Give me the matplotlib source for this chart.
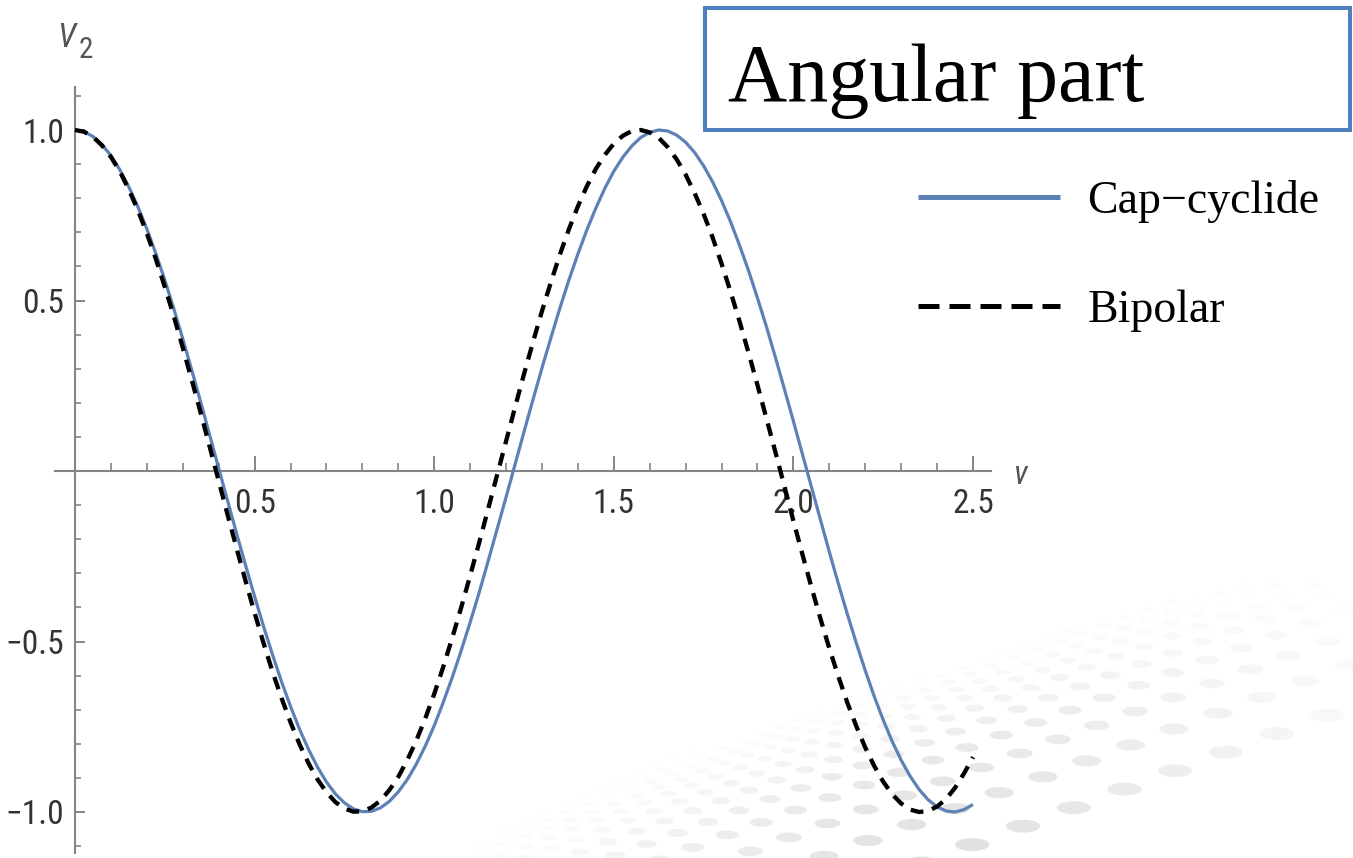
import math
import matplotlib
matplotlib.use("Agg")
import matplotlib.pyplot as plt
from matplotlib.lines import Line2D
from matplotlib.patches import Rectangle, Ellipse

# sampled curves, step 0.025 in v
v = [i * 0.025 for i in range(101)]

cap_cyclide = [
    1.000, 0.995, 0.981, 0.957, 0.925, 0.883, 0.833, 0.775, 0.710, 0.638,
    0.560, 0.476, 0.388, 0.296, 0.202, 0.105, 0.008, -0.088, -0.184, -0.277,
    -0.368, -0.456, -0.539, -0.618, -0.690, -0.757, -0.816, -0.868, -0.912, -0.947,
    -0.973, -0.991, -0.999, -0.998, -0.988, -0.969, -0.941, -0.905, -0.860, -0.807,
    -0.747, -0.679, -0.606, -0.527, -0.444, -0.357, -0.265, -0.171, -0.077, 0.019,
    0.115, 0.209, 0.302, 0.391, 0.478, 0.560, 0.636, 0.707, 0.771, 0.829,
    0.879, 0.920, 0.953, 0.978, 0.993, 1.000, 0.997, 0.985, 0.964, 0.934,
    0.895, 0.848, 0.793, 0.731, 0.662, 0.588, 0.507, 0.423, 0.333, 0.240,
    0.146, 0.050, -0.046, -0.142, -0.237, -0.330, -0.419, -0.504, -0.585, -0.661,
    -0.730, -0.793, -0.848, -0.895, -0.934, -0.964, -0.985, -0.997, -1.000, -0.993,
    -0.978,
]

bipolar = [
    1.000, 0.995, 0.980, 0.955, 0.921, 0.878, 0.825, 0.765, 0.697, 0.622,
    0.540, 0.454, 0.362, 0.267, 0.170, 0.071, -0.029, -0.129, -0.227, -0.323,
    -0.416, -0.505, -0.589, -0.666, -0.737, -0.801, -0.857, -0.904, -0.942, -0.971,
    -0.990, -0.999, -0.998, -0.987, -0.967, -0.936, -0.897, -0.848, -0.791, -0.726,
    -0.654, -0.575, -0.490, -0.401, -0.307, -0.211, -0.112, -0.012, 0.087, 0.187,
    0.284, 0.378, 0.469, 0.554, 0.635, 0.709, 0.776, 0.835, 0.886, 0.927,
    0.960, 0.983, 0.997, 1.000, 0.993, 0.977, 0.950, 0.914, 0.869, 0.815,
    0.754, 0.685, 0.608, 0.526, 0.439, 0.347, 0.252, 0.154, 0.055, -0.045,
    -0.146, -0.244, -0.340, -0.432, -0.520, -0.602, -0.679, -0.748, -0.811, -0.865,
    -0.911, -0.948, -0.975, -0.993, -1.000, -0.997, -0.984, -0.962, -0.929, -0.887,
    -0.839,
]

x_ticks = [0.5, 1.0, 1.5, 2.0, 2.5]
x_tick_labels = ["0.5", "1.0", "1.5", "2.0", "2.5"]
y_ticks = [-1.0, -0.5, 0.5, 1.0]
y_tick_labels = ["\u22121.0", "\u22120.5", "0.5", "1.0"]
series_labels = ["Cap\u2212cyclide", "Bipolar"]
title = "Angular part"

W, H = 1353, 858
BLUE = "#5e81b5"
AXIS = "#858585"
TEXT = "#333333"
SANS = ["Roboto Condensed", "Liberation Sans", "DejaVu Sans"]
SERIF = ["Liberation Serif", "DejaVu Serif"]

fig = plt.figure(figsize=(W / 100, H / 100), dpi=100)


def fx(px):
    return px / W


def fy(py):
    return 1 - py / H


# faint receding dot field in the lower right of the slide
bg = fig.add_axes([0, 0, 1, 1], zorder=0)
bg.set_xlim(0, W)
bg.set_ylim(H, 0)
bg.axis("off")
ang = math.radians(20)
d = (math.cos(ang), -math.sin(ang))
n = (0.45, -0.89)
ox, oy = 820, 900
for j in range(26):
    z = 1 + 0.16 * j
    p = 420 * (1 - 1 / z)
    step = 54 / z
    cx, cy = ox + p * n[0], oy + p * n[1]
    for i in range(-40, 41):
        t = (i + 0.5 * (j % 2)) * step
        x, y = cx + t * d[0], cy + t * d[1]
        if not (0 <= x <= W + 20 and 0 <= y <= H + 20):
            continue
        dist = math.hypot((x - 960) / 1.2, (y - 900))
        a = max(0.0, 1 - dist / 480) ** 1.2
        # soft upper-left edge of the field
        edge = 858 - (x - 470) * 0.33
        a *= min(1.0, max(0.0, (y - edge + 40) / 90))
        if a < 0.03:
            continue
        bg.add_patch(Ellipse((x, y), 34 / z, 13 / z, color="#d4d4d4",
                             alpha=0.8 * a, lw=0))

ax = fig.add_axes([0, 0, 1, 1], zorder=1)

# pixel layout: v=0 at x=75, 359.2 px per unit; V2=0 at y=471, 341 px per unit
ax.set_xlim(-75 / 359.2, (W - 75) / 359.2)
ax.set_ylim(-(H - 471) / 341, 471 / 341)
ax.patch.set_alpha(0)

ax.plot(v, cap_cyclide, color=BLUE, lw=2.3, solid_capstyle="butt", zorder=3)
ax.plot(v, bipolar, color="black", lw=3.1, dashes=(3.0, 2.1), zorder=4)

for s in ("top", "right"):
    ax.spines[s].set_visible(False)
ax.spines["left"].set_position(("data", 0))
ax.spines["bottom"].set_position(("data", 0))
ax.spines["left"].set_bounds(-1.12, 1.126)
ax.spines["bottom"].set_bounds(-0.056, 2.55)
for s in ("left", "bottom"):
    ax.spines[s].set_color(AXIS)
    ax.spines[s].set_linewidth(1.5)

ax.set_xticks(x_ticks)
ax.set_xticklabels(x_tick_labels)
ax.set_xticks([i / 10 for i in range(1, 25) if i % 5], minor=True)
ax.set_yticks(y_ticks)
ax.set_yticklabels(y_tick_labels)
ax.set_yticks([i / 10 for i in range(-11, 12) if i % 5 and i != 0], minor=True)

ax.tick_params(axis="x", which="major", direction="in", length=10.8, width=1.4,
               color=AXIS, pad=12, labelsize=24, labelcolor=TEXT)
ax.tick_params(axis="x", which="minor", direction="in", length=5.8, width=1.2,
               color=AXIS)
ax.tick_params(axis="y", which="major", direction="in", length=7.2, width=1.4,
               color=AXIS, pad=8, labelsize=24, labelcolor=TEXT)
ax.tick_params(axis="y", which="minor", direction="in", length=4.2, width=1.2,
               color=AXIS)
for lab in ax.get_xticklabels() + ax.get_yticklabels():
    lab.set_family(SANS)

# axis names
fig.text(fx(57), fy(47), "V", family=SANS, style="italic", fontsize=24,
         color="#555555", ha="left", va="baseline")
fig.text(fx(79), fy(58), "2", family=SANS, fontsize=21,
         color="#555555", ha="left", va="baseline")
fig.text(fx(1014), fy(484), "v", family=SANS, style="italic", fontsize=24,
         color="#555555", ha="left", va="baseline")

# title box
fig.patches.append(Rectangle((fx(705), fy(130)), fx(1350) - fx(705), fy(8) - fy(130),
                             transform=fig.transFigure, fill=False,
                             edgecolor="#4f7fbf", lw=2.9, zorder=5))
fig.text(fx(728), fy(101), title, family=SERIF, fontsize=59, color="black",
         ha="left", va="baseline")

handles = [
    Line2D([], [], color=BLUE, lw=3.6, solid_capstyle="butt"),
    Line2D([], [], color="black", lw=3.6, dashes=(4.2, 2.0)),
]
ax.legend(handles, series_labels, loc="upper left",
          bbox_to_anchor=(fx(918), fy(180)), bbox_transform=fig.transFigure,
          frameon=False, borderpad=0, borderaxespad=0, handlelength=3.1,
          handletextpad=0.6, labelspacing=1.45,
          prop={"family": SERIF, "size": 33})

fig.savefig("out.png", dpi=100)
